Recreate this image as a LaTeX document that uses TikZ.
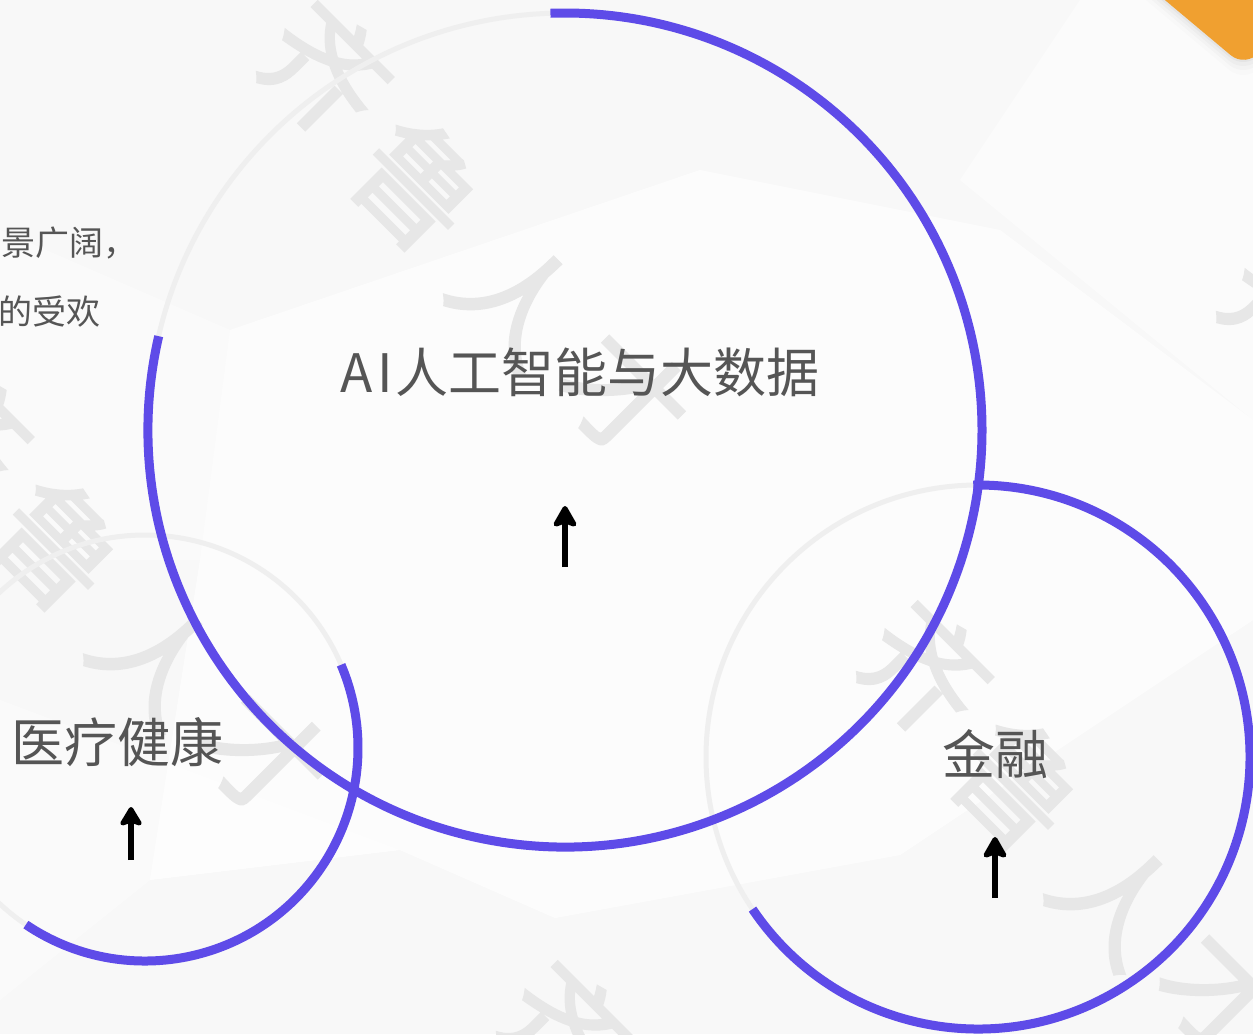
\documentclass[tikz,border=0pt]{standalone}
\usepackage{fontspec}
\newfontfamily\cjk{Noto Sans CJK SC}
\newfontfamily\cjkwm[FakeBold=2]{Noto Sans CJK SC}
\usetikzlibrary{arrows.meta}
\definecolor{ringpurple}{HTML}{5E4BE8}
\definecolor{ringgray}{HTML}{EFEFEF}
\definecolor{txtgray}{HTML}{555555}
\definecolor{accentorange}{HTML}{F0A030}
\definecolor{bggray}{HTML}{F8F8F8}
\definecolor{wmgray}{HTML}{E7E7E7}
\tikzset{
  ringbase/.style={draw=ringgray, line width=5pt},
  ringarc/.style={draw=ringpurple, line width=9pt},
  bigtitle/.style={font=\cjk\fontsize{53}{60}\selectfont, text=txtgray, inner sep=0pt},
  sidetext/.style={font=\cjk\fontsize{34}{40}\selectfont, text=txtgray, inner sep=0pt},
  wmark/.style={font=\cjkwm\fontsize{122}{122}\selectfont, text=wmgray, rotate=-45, inner sep=0pt},
  uparrow/.style={draw=black, line width=5.5pt, -{Stealth[length=25pt,width=28pt,inset=5pt,round]}},
  facet/.style={fill=white, draw=none, opacity=0.7}
}
\begin{document}
\begin{tikzpicture}[x=1pt,y=-1pt]
\useasboundingbox (0,0) rectangle (1253,1034);
\clip (0,0) rectangle (1253,1034);
% background
\fill[bggray] (0,0) rectangle (1253,1034);
\fill[facet] (230,330) -- (700,170) -- (1000,230) -- (1253,420) -- (1253,620) -- (900,855) -- (555,918) -- (400,850) -- (150,880) -- (200,560) -- cycle;
\fill[facet, opacity=0.5] (960,180) -- (1080,0) -- (1253,0) -- (1253,420) -- cycle;
\fill[facet, opacity=0.4] (0,1000) -- (150,880) -- (400,850) -- (0,700) -- cycle;
\fill[facet, opacity=0.4] (0,230) -- (230,330) -- (200,560) -- (0,560) -- cycle;
% orange corner shape with soft shadow
\foreach \s/\o in {16/0.012, 11/0.018, 7/0.025, 3/0.035}{
  \fill[black, opacity=\o, rounded corners=22pt] (1246,68+\s) -- (1110,-46+\s) -- (1224,-182+\s) -- (1360,-68+\s) -- cycle;
}
\fill[accentorange, rounded corners=20pt] (1246,68) -- (1110,-46) -- (1224,-182) -- (1360,-68) -- cycle;
% watermark
\foreach \dx/\dy [count=\k] in {0/0, -360/360, 600/600, 240/960, 960/240}{
  \node[wmark] (wq\k) at (325+\dx,70+\dy) {齐};
  \node[wmark] (wl\k) at (418+\dx,185+\dy) {鲁};
  \node[wmark] (wr\k) at (518+\dx,300+\dy) {人};
  \node[wmark] (wc\k) at (625+\dx,395+\dy) {才};
}
% circles (gray base)
\coordinate (cbig) at (565,430);
\coordinate (cleft) at (145,748);
\coordinate (cright) at (978,757);
\draw[ringbase] (cbig) circle[radius=417];
\draw[ringbase] (cleft) circle[radius=213];
\draw[ringbase] (cright) circle[radius=272];
% purple arcs
\draw[ringarc] (cbig) ++(-167:417) arc[start angle=-167, end angle=-452, radius=417];
\draw[ringarc] (cleft) ++(124:213) arc[start angle=124, end angle=-23, radius=213];
\draw[ringarc] (cright) ++(146:272) arc[start angle=146, end angle=-91, radius=272];
% side text
\node[sidetext, anchor=east] (side1) at (138,243) {景广阔，};
\node[sidetext, anchor=west] (side2) at (-2,312) {的受欢};
% titles
\node[bigtitle, anchor=west] (tbig) at (340,372) {A\kern5pt I\kern3pt 人工智能与大数据};
\node[bigtitle, anchor=west] (tleft) at (11,742) {医疗健康};
\node[bigtitle, anchor=west] (tright) at (942,754) {金融};
% arrows
\coordinate (abigb) at (565,567);
\coordinate (abigt) at (565,506);
\coordinate (aleftb) at (131,860);
\coordinate (aleftt) at (131,807);
\coordinate (arightb) at (995,898);
\coordinate (arightt) at (995,837);
\draw[uparrow] (abigb) -- (abigt);
\draw[uparrow, -{Stealth[length=22pt,width=26pt,inset=4pt,round]}] (aleftb) -- (aleftt);
\draw[uparrow] (arightb) -- (arightt);
\end{tikzpicture}
\end{document}
